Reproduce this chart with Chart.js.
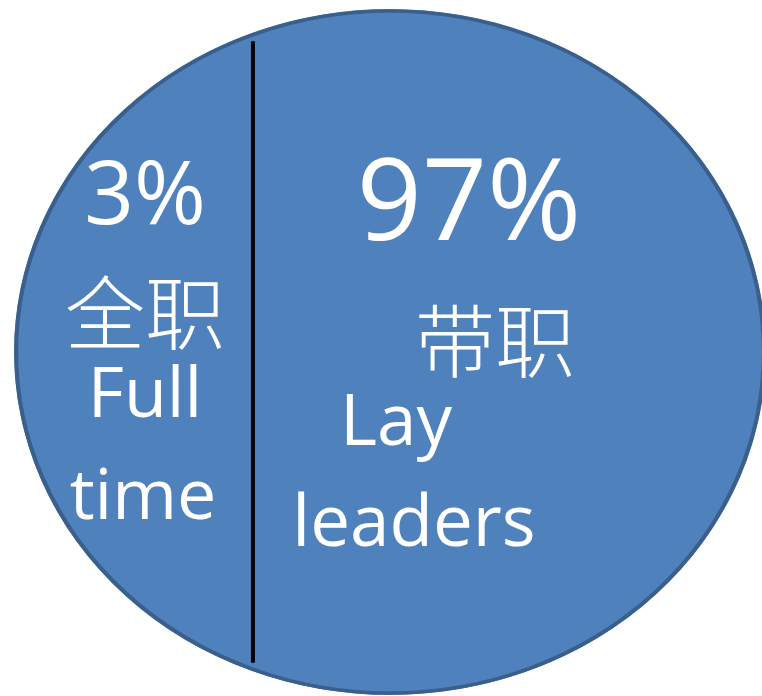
<!DOCTYPE html>
<html>
<head>
<meta charset="utf-8">
<script src="https://cdn.jsdelivr.net/npm/chart.js@4"></script>
<style>
  html, body { margin: 0; padding: 0; background: #ffffff; }
  #wrap { width: 762px; height: 696px; }
</style>
</head>
<body>
<div id="wrap"><canvas id="LeaderChart"></canvas></div>
<script>
const categories = ["全职", "带职"];
const categoriesEn = [["Full", "time"], ["Lay", "leaders"]];
const shares = [3, 97];

const fillColor = "#4F81BD";
const edgeColor = "#3A5F8B";
const stretchX = 376 / 343;

// text layout, offsets from the ellipse centre
const labelLayout = [
  { pct: [-245, -128, 87], cjk: [-245, -39, 80], en: [[-245, 65, 70], [-247, 167, 70]] },
  { pct: [79, -112, 114], cjk: [105, -11, 80], en: [[6, 93, 71], [24, 194, 71]] },
];

const ellipsePlugin = {
  id: "ellipse",
  beforeDatasetsDraw(chart) {
    const arc = chart.getDatasetMeta(0).data[0];
    const ctx = chart.ctx;
    ctx.save();
    ctx.translate(arc.x, arc.y);
    ctx.scale(stretchX, 1);
    ctx.translate(-arc.x, -arc.y);
  },
  afterDatasetsDraw(chart) {
    const arc = chart.getDatasetMeta(0).data[0];
    const ctx = chart.ctx;
    ctx.beginPath();
    ctx.arc(arc.x, arc.y, arc.outerRadius - 1.5, 0, Math.PI * 2);
    ctx.lineWidth = 3.6;
    ctx.strokeStyle = edgeColor;
    ctx.stroke();
    ctx.restore();
  },
  afterDraw(chart) {
    const arc = chart.getDatasetMeta(0).data[0];
    const ctx = chart.ctx;
    const cx = arc.x, cy = arc.y, r = arc.outerRadius;
    const rx = r * stretchX;

    // divider
    ctx.save();
    ctx.beginPath();
    ctx.moveTo(cx - rx * 0.365, cy - r * 0.907);
    ctx.lineTo(cx - rx * 0.365, cy + r * 0.907);
    ctx.lineWidth = 4;
    ctx.strokeStyle = "#000000";
    ctx.stroke();

    ctx.fillStyle = "#ffffff";
    ctx.textAlign = "center";
    shares.forEach((v, i) => {
      const l = labelLayout[i];
      ctx.textBaseline = "alphabetic";
      ctx.font = l.pct[2] + "px 'Open Sans', sans-serif";
      ctx.fillText(v + "%", cx + l.pct[0], cy + l.pct[1]);

      ctx.textBaseline = "middle";
      ctx.font = "300 " + l.cjk[2] + "px 'Noto Sans CJK SC', sans-serif";
      ctx.fillText(categories[i], cx + l.cjk[0], cy + l.cjk[1]);

      ctx.textBaseline = "alphabetic";
      categoriesEn[i].forEach((word, j) => {
        const p = l.en[j];
        ctx.font = p[2] + "px 'Open Sans', sans-serif";
        ctx.fillText(word, cx + p[0], cy + p[1]);
      });
    });
    ctx.restore();
  },
};

const ctx = document.getElementById("LeaderChart");

const chart = new Chart(ctx, {
  type: "pie",
  data: {
    labels: categories,
    datasets: [
      {
        data: shares,
        backgroundColor: [fillColor, fillColor],
        borderColor: fillColor,
        borderWidth: 1,
        clip: false,
      },
    ],
  },
  options: {
    responsive: true,
    maintainAspectRatio: false,
    animation: false,
    rotation: 0,
    layout: { padding: { top: 9, bottom: 1, left: 38, right: 20 } },
    plugins: {
      legend: { display: false },
      tooltip: { enabled: false },
    },
    events: [],
  },
  plugins: [ellipsePlugin],
});
</script>
</body>
</html>
